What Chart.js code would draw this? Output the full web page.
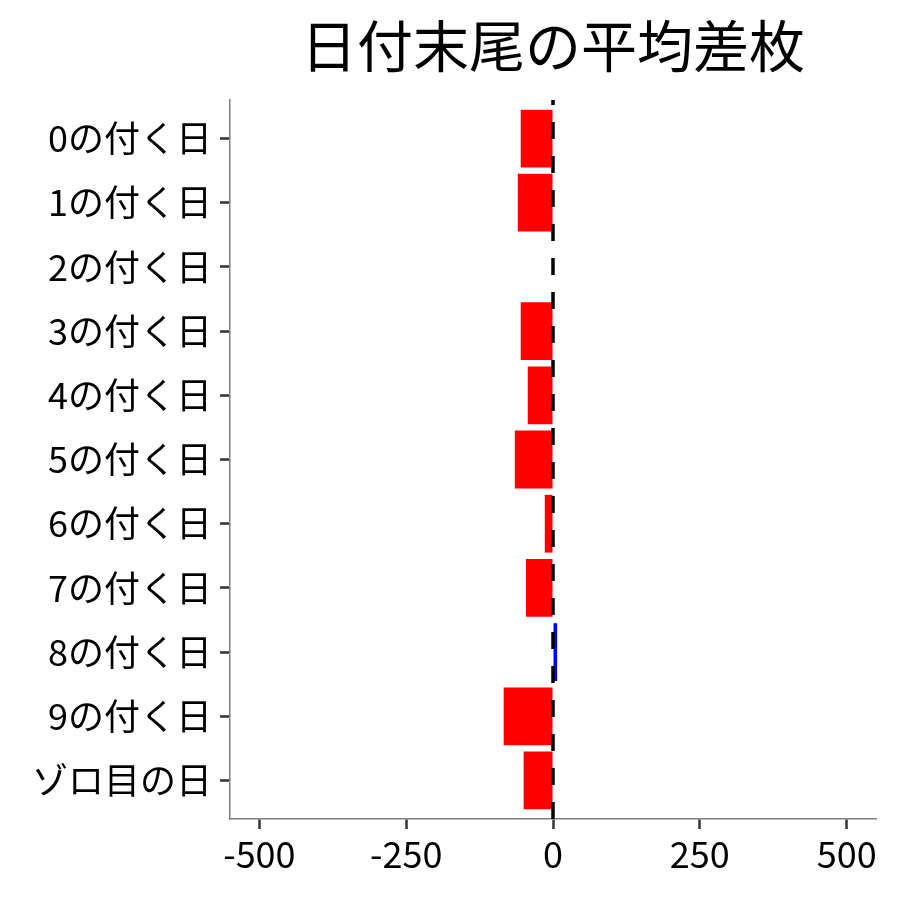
<!DOCTYPE html>
<html>
<head>
<meta charset="utf-8">
<script src="https://cdn.jsdelivr.net/npm/chart.js@4/dist/chart.umd.min.js"></script>
<style>
  html, body { margin: 0; padding: 0; background: #fff; }
  #wrap { width: 900px; height: 900px; }
</style>
</head>
<body>
<div id="wrap"><canvas id="cv" width="900" height="900"></canvas></div>
<script>
  const titleText = "日付末尾の平均差枚";
  const categories = ["0の付く日", "1の付く日", "2の付く日", "3の付く日", "4の付く日",
    "5の付く日", "6の付く日", "7の付く日", "8の付く日", "9の付く日", "ゾロ目の日"];
  const values = [-55, -60, 0, -55, -43, -65, -14, -46, 7, -84, -50];
  const xTicks = [-500, -250, 0, 250, 500];

  const FONT = "'Noto Sans CJK JP', 'Noto Sans', sans-serif";

  // dashed reference line at 0
  const zeroLine = {
    id: "zeroLine",
    afterDatasetsDraw(chart) {
      const { ctx, chartArea, scales } = chart;
      const x = scales.x.getPixelForValue(0);
      ctx.save();
      ctx.strokeStyle = "#000";
      ctx.lineWidth = 3.5;
      ctx.setLineDash([17, 17]);
      ctx.beginPath();
      ctx.moveTo(x, chartArea.bottom);
      ctx.lineTo(x, chartArea.top);
      ctx.stroke();
      ctx.restore();
    }
  };

  // title centred over the panel, like ggplot
  const panelTitle = {
    id: "panelTitle",
    afterDraw(chart) {
      const { ctx, chartArea } = chart;
      ctx.save();
      ctx.fillStyle = "#000";
      ctx.font = "56px " + FONT;
      ctx.textAlign = "center";
      ctx.textBaseline = "middle";
      ctx.fillText(titleText, (chartArea.left + chartArea.right) / 2, 46);
      ctx.restore();
    }
  };

  const points = values.map((v, i) => ({ x: v, y: i }));
  const colors = values.map(v => (v > 0 ? "#0000ff" : "#ff0000"));

  new Chart(document.getElementById("cv"), {
    type: "bar",
    data: {
      datasets: [{
        data: points,
        backgroundColor: colors,
        borderWidth: 0,
        barPercentage: 0.9,
        categoryPercentage: 1
      }]
    },
    options: {
      indexAxis: "y",
      responsive: false,
      animation: false,
      layout: { padding: { left: 0, right: 24, top: 100, bottom: 0 } },
      plugins: {
        legend: { display: false },
        tooltip: { enabled: false },
        title: { display: false }
      },
      scales: {
        x: {
          type: "linear",
          min: -550,
          max: 550,
          afterBuildTicks: s => { s.ticks = xTicks.map(v => ({ value: v })); },
          afterFit: s => { s.height = 81; },
          grid: { drawOnChartArea: false, tickLength: 10, tickColor: "#333", tickWidth: 2.5 },
          border: { color: "#7f7f7f", width: 1.5 },
          ticks: { color: "#000", font: { family: FONT, size: 36 }, padding: 4, maxRotation: 0 }
        },
        y: {
          type: "linear",
          reverse: true,
          offset: false,
          min: -0.6,
          max: categories.length - 1 + 0.6,
          afterBuildTicks: s => { s.ticks = categories.map((c, i) => ({ value: i })); },
          afterFit: s => { s.width = 230; },
          grid: { offset: false, drawOnChartArea: false, tickLength: 10, tickColor: "#333", tickWidth: 2.5 },
          border: { color: "#7f7f7f", width: 1.5 },
          ticks: {
            color: "#000",
            font: { family: FONT, size: 36 },
            padding: 8,
            callback: v => categories[v]
          }
        }
      }
    },
    plugins: [zeroLine, panelTitle]
  });
</script>
</body>
</html>
